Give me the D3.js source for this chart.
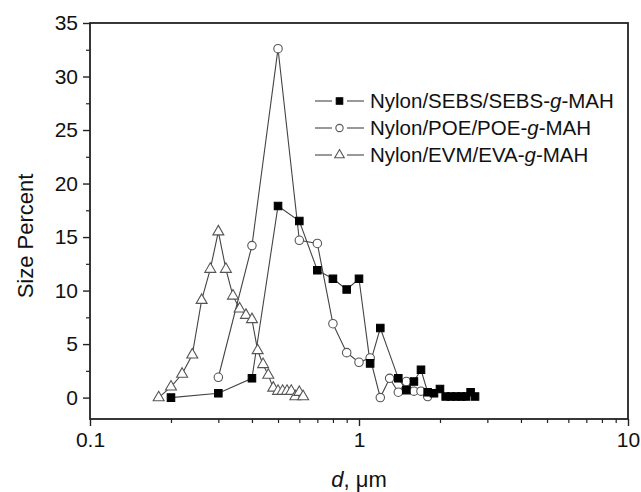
<!DOCTYPE html>
<html>
<head>
<meta charset="utf-8">
<script src="https://cdn.jsdelivr.net/npm/d3@7"></script>
<style>
body { margin: 0; background: #fff; }
svg { display: block; font-family: "Liberation Sans", Arial, sans-serif; }
</style>
</head>
<body>
<div id="chart"></div>
<script>
// particle diameter (um) and size percent for each blend
const sebsD = [0.2, 0.3, 0.4, 0.5, 0.6, 0.7, 0.8, 0.9, 1.0, 1.1, 1.2, 1.4, 1.5, 1.6, 1.7, 1.8, 1.9, 2.0, 2.1, 2.2, 2.3, 2.4, 2.5, 2.6, 2.7];
const sebsP = [0, 0.4, 1.8, 17.9, 16.5, 11.9, 11.1, 10.1, 11.1, 3.2, 6.5, 1.8, 0.7, 1.5, 2.6, 0.5, 0.4, 0.8, 0.1, 0.1, 0.1, 0.1, 0.1, 0.5, 0.1];

const poeD = [0.3, 0.4, 0.5, 0.6, 0.7, 0.8, 0.9, 1.0, 1.1, 1.2, 1.3, 1.4, 1.5, 1.6, 1.7, 1.8];
const poeP = [1.9, 14.2, 32.6, 14.7, 14.4, 6.9, 4.2, 3.3, 3.7, 0, 1.8, 0.5, 1.5, 0.6, 0.6, 0.1];

const evaD = [0.18, 0.2, 0.22, 0.24, 0.26, 0.28, 0.3, 0.32, 0.34, 0.36, 0.38, 0.4, 0.42, 0.44, 0.46, 0.48, 0.5, 0.52, 0.54, 0.56, 0.58, 0.6, 0.62];
const evaP = [0, 1.0, 2.2, 4.0, 9.1, 12.0, 15.5, 12.0, 9.5, 8.3, 7.7, 7.3, 4.4, 3.1, 2.1, 0.9, 0.6, 0.6, 0.6, 0.6, 0.1, 0.5, 0.1];

const seriesNames = ["Nylon/SEBS/SEBS-", "Nylon/POE/POE-", "Nylon/EVM/EVA-"];
const yTicks = [0, 5, 10, 15, 20, 25, 30, 35];
const xTicks = [0.1, 1, 10];

const width = 641, height = 492;
const margin = {top: 23, right: 13, bottom: 73, left: 90};
const innerW = width - margin.left - margin.right;
const innerH = height - margin.top - margin.bottom;

const svg = d3.select("#chart").append("svg")
	.attr("width", width)
	.attr("height", height);

const g = svg.append("g").attr("transform", `translate(${margin.left},${margin.top})`);

const x = d3.scaleLog().domain([0.1, 10]).range([0, innerW]);
const y = d3.scaleLinear().domain([-2, 35]).range([innerH, 0]);

// frame
g.append("rect")
	.attr("width", innerW)
	.attr("height", innerH)
	.attr("fill", "none")
	.attr("stroke", "#222")
	.attr("stroke-width", 1.8);

// minor ticks
const xMinor = [];
for (const dec of [0.1, 1]) for (let k = 2; k <= 9; k++) xMinor.push(dec * k);
g.append("g")
	.attr("transform", `translate(0,${innerH})`)
	.call(d3.axisBottom(x).tickValues(xMinor).tickSize(4).tickFormat(""))
	.call(a => a.select(".domain").remove())
	.selectAll("line").attr("stroke", "#222").attr("stroke-width", 1.2);

const yMinor = d3.range(0, 35, 5).map(v => v + 2.5);
g.append("g")
	.call(d3.axisLeft(y).tickValues(yMinor).tickSize(4).tickFormat(""))
	.call(a => a.select(".domain").remove())
	.selectAll("line").attr("stroke", "#222").attr("stroke-width", 1.2);

// major axes
const xAxis = g.append("g")
	.attr("transform", `translate(0,${innerH})`)
	.call(d3.axisBottom(x).tickValues(xTicks).tickSize(7).tickPadding(6).tickFormat(d => d3.format("~g")(d)));
xAxis.select(".domain").remove();
xAxis.selectAll("line").attr("stroke", "#222").attr("stroke-width", 1.4);
xAxis.selectAll("text").attr("font-size", 21).attr("fill", "#111").attr("font-family", null);

const yAxis = g.append("g")
	.call(d3.axisLeft(y).tickValues(yTicks).tickSize(7).tickPadding(5));
yAxis.select(".domain").remove();
yAxis.selectAll("line").attr("stroke", "#222").attr("stroke-width", 1.4);
yAxis.selectAll("text").attr("font-size", 21).attr("fill", "#111").attr("font-family", null);

// axis titles
const xTitle = svg.append("text")
	.attr("x", margin.left + x(1))
	.attr("y", 487)
	.attr("text-anchor", "middle")
	.attr("font-size", 22)
	.attr("fill", "#111");
xTitle.append("tspan").attr("font-style", "italic").text("d");
xTitle.append("tspan").text(", \u03bcm");

svg.append("text")
	.attr("transform", "translate(33,236) rotate(-90)")
	.attr("text-anchor", "middle")
	.attr("font-size", 22)
	.attr("fill", "#111")
	.text("Size Percent");

// series
const series = [
	{name: seriesNames[2], d: evaD, p: evaP, sym: d3.symbolTriangle, size: 52, fill: "#fff"},
	{name: seriesNames[1], d: poeD, p: poeP, sym: d3.symbolCircle, size: 56, fill: "#fff"},
	{name: seriesNames[0], d: sebsD, p: sebsP, sym: d3.symbolSquare, size: 56, fill: "#000"},
];

const line = d3.line().x(d => x(d[0])).y(d => y(d[1]));

for (const s of series) {
	const pts = s.d.map((v, i) => [v, s.p[i]]);
	g.append("path")
		.datum(pts)
		.attr("d", line)
		.attr("fill", "none")
		.attr("stroke", "#444")
		.attr("stroke-width", 1.1);
}
for (const s of series) {
	const pts = s.d.map((v, i) => [v, s.p[i]]);
	g.append("g").selectAll("path")
		.data(pts)
		.join("path")
		.attr("transform", d => `translate(${x(d[0])},${y(d[1])})`)
		.attr("d", d3.symbol(s.sym, s.size))
		.attr("fill", s.fill)
		.attr("stroke", s.fill === "#000" ? "#000" : "#555")
		.attr("stroke-width", 1.1);
}

// legend
const legend = svg.append("g").attr("transform", "translate(315,101)");
const legendOrder = [series[2], series[1], series[0]];
legendOrder.forEach((s, i) => {
	const row = legend.append("g").attr("transform", `translate(0,${i * 27})`);
	row.append("line").attr("x1", 0).attr("x2", 17).attr("stroke", "#555").attr("stroke-width", 1.2);
	row.append("line").attr("x1", 32).attr("x2", 49).attr("stroke", "#555").attr("stroke-width", 1.2);
	row.append("path")
		.attr("transform", "translate(24.5,0)")
		.attr("d", d3.symbol(s.sym, s.size * 0.75))
		.attr("fill", s.fill)
		.attr("stroke", s.fill === "#000" ? "#000" : "#555")
		.attr("stroke-width", 1.1);
	const t = row.append("text")
		.attr("x", 55)
		.attr("y", 7)
		.attr("font-size", 20.5)
		.attr("fill", "#111");
	t.append("tspan").text(s.name);
	t.append("tspan").attr("font-style", "italic").text("g");
	t.append("tspan").text("-MAH");
});
</script>
</body>
</html>
